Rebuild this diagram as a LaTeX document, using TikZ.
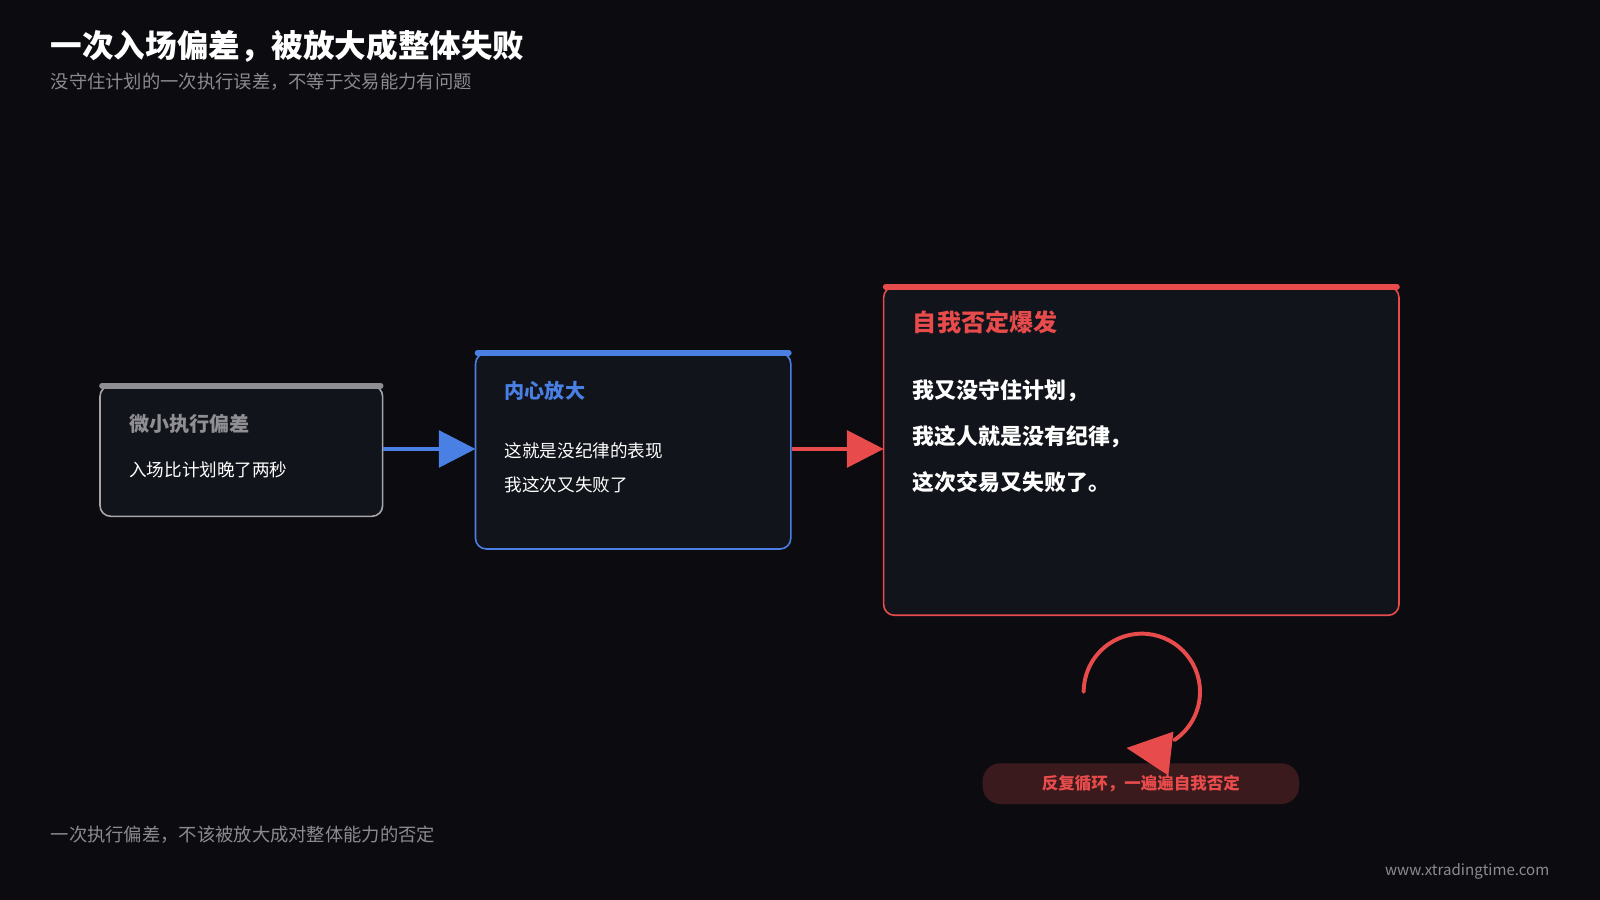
\documentclass[tikz,border=0pt]{standalone}
\usepackage{fontspec}
\setmainfont{Noto Sans CJK SC}
\usetikzlibrary{arrows.meta}
\definecolor{bg}{HTML}{0C0C10}
\definecolor{boxbg}{HTML}{12141B}
\definecolor{grayc}{HTML}{8E8E93}
\definecolor{bluec}{HTML}{4A80E4}
\definecolor{redc}{HTML}{E84B4B}
\definecolor{pillc}{HTML}{3A1A1D}
\definecolor{subc}{HTML}{8A8A90}
\begin{document}
\begin{tikzpicture}[
        x=0.01cm, y=-0.01cm,
        card/.style={draw=#1, fill=boxbg, rounded corners=3pt, line width=0.45pt},
        bar/.style={line width=1.6pt, line cap=round},
        txt/.style={anchor=west, inner sep=0pt, text=white},
        flow/.style={line width=1.1pt, -{Triangle[length=0.36cm,width=0.36cm]}}
    ]
    \fill[bg] (0,0) rectangle (1568,882);
    \useasboundingbox (0,0) rectangle (1568,882);

    % Titel
    \node[txt, font=\bfseries\fontsize{8.8}{10}\selectfont] (title) at (49,45) {一次入场偏差，被放大成整体失败};
    \node[txt, text=subc, font=\fontsize{5.1}{6}\selectfont] (sub) at (49,80) {没守住计划的一次执行误差，不等于交易能力有问题};

    % Karten
    \draw[card=grayc!80!white] (98,378) rectangle (375,506);
    \draw[bar, grayc] (100,378) -- (373,378);
    \coordinate (e1) at (375,440);
    \node[txt, text=grayc, font=\bfseries\fontsize{5.6}{6}\selectfont] (t1) at (126,415) {微小执行偏差};
    \node[txt, font=\fontsize{4.9}{6}\selectfont] (l1) at (126,460) {入场比计划晚了两秒};

    \draw[card=bluec] (466,346) rectangle (775,538);
    \draw[bar, bluec] (468,346) -- (773,346);
    \coordinate (w2) at (466,440);
    \coordinate (e2) at (776,440);
    \node[txt, text=bluec, font=\bfseries\fontsize{5.6}{6}\selectfont] (t2) at (494,383) {内心放大};
    \node[txt, font=\fontsize{4.9}{6}\selectfont] (l2a) at (494,442) {这就是没纪律的表现};
    \node[txt, font=\fontsize{4.9}{6}\selectfont] (l2b) at (494,475) {我这次又失败了};

    \draw[card=redc] (866,281) rectangle (1371,603);
    \draw[bar, redc] (868,281) -- (1369,281);
    \coordinate (w3) at (866,440);
    \node[txt, text=redc, font=\bfseries\fontsize{6.7}{8}\selectfont] (t3) at (894,316) {自我否定爆发};
    \node[txt, font=\bfseries\fontsize{6.1}{7}\selectfont] (l3a) at (894,383) {我又没守住计划，};
    \node[txt, font=\bfseries\fontsize{6.1}{7}\selectfont] (l3b) at (894,428) {我这人就是没有纪律，};
    \node[txt, font=\bfseries\fontsize{6.1}{7}\selectfont] (l3c) at (894,473) {这次交易又失败了。};

    % Pfeile
    \draw[flow, bluec] (e1) -- (w2);
    \draw[flow, redc] (e2) -- (w3);

    % Schleife
    \node[fill=pillc, rounded corners=5pt, minimum width=3.1cm, minimum height=0.35cm,
          text=redc, font=\bfseries\fontsize{4.6}{5}\selectfont] (loop) at (1118,768) {反复循环，一遍遍自我否定};
    \draw[redc, line width=1.1pt, line cap=round] (1062,678) arc[start angle=180, end angle=416, radius=57];
    \fill[redc] (1104,733) -- (1150,717) -- (1145,760) -- cycle;

    % Fusszeile
    \node[txt, text=subc, font=\fontsize{5.1}{6}\selectfont] (foot) at (49,818) {一次执行偏差，不该被放大成对整体能力的否定};
    \node[anchor=east, inner sep=0pt, text=subc, font=\fontsize{4.2}{5}\selectfont] (url) at (1519,854) {www.xtradingtime.com};
\end{tikzpicture}
\end{document}
